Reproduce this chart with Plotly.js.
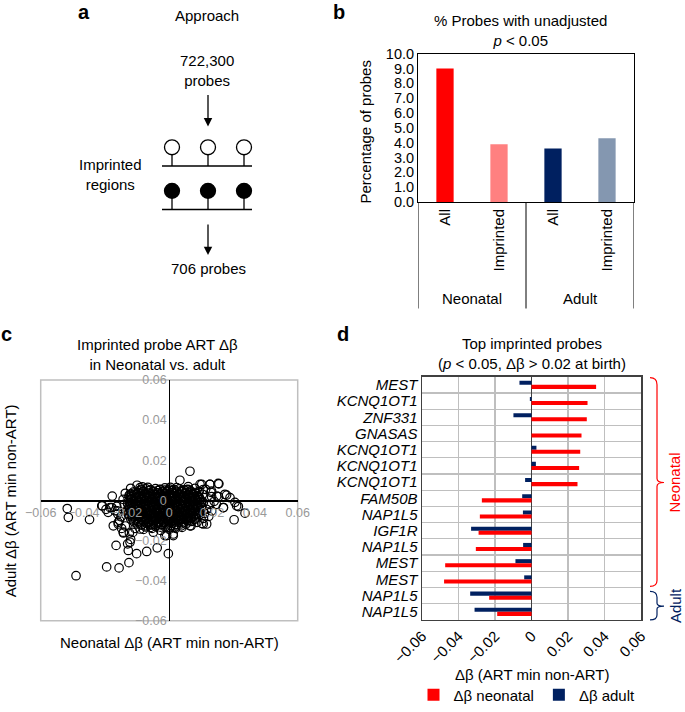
<!DOCTYPE html>
<html><head><meta charset="utf-8">
<script src="https://cdn.plot.ly/plotly-3.0.1.min.js"></script>
<style>html,body{margin:0;padding:0;background:#fff}#chart{width:685px;height:712px}</style>
</head><body><div id="chart"></div>
<script>
// ---------- Panel b data ----------
const bCategories = ['All', 'Imprinted', 'All', 'Imprinted'];
const bGroups = ['Neonatal', 'Adult'];
const bValues = [9.0, 3.9, 3.6, 4.3];
const bColors = ['#ff0000', '#ff8080', '#002060', '#8497b0'];
const bTicks = [0, 1, 2, 3, 4, 5, 6, 7, 8, 9, 10];

// ---------- Panel d data ----------
const dGenes = ['MEST', 'KCNQ1OT1', 'ZNF331', 'GNASAS', 'KCNQ1OT1', 'KCNQ1OT1', 'KCNQ1OT1',
  'FAM50B', 'NAP1L5', 'IGF1R', 'NAP1L5', 'MEST', 'MEST', 'NAP1L5', 'NAP1L5'];
const dNeonatal = [0.0354, 0.0307, 0.0303, 0.0274, 0.0267, 0.0261, 0.0252,
  -0.0272, -0.0283, -0.0290, -0.0305, -0.0473, -0.0479, -0.0232, -0.0188];
const dAdult = [-0.0066, -0.0009, -0.0099, 0.0000, 0.0027, 0.0024, -0.0035,
  -0.0051, -0.0047, -0.0331, -0.0046, -0.0088, -0.0040, -0.0336, -0.0312];
const dTicks = [-0.06, -0.04, -0.02, 0, 0.02, 0.04, 0.06];

// ---------- Panel c data (imprinted probes: neonatal vs adult delta beta) ----------
const cNeonatal = [
 -0.0131,-0.0108,-0.0087,-0.0064,-0.0043,-0.0021,0.0002,0.0024,0.0047,0.0069,0.0088,
 -0.0168,-0.0146,-0.0123,-0.0099,-0.0076,-0.0054,-0.0031,-0.0009,0.0013,0.0036,0.0058,0.0079,0.0101,0.0122,
 -0.0187,-0.0163,-0.0141,-0.0117,-0.0094,-0.0072,-0.0049,-0.0026,-0.0004,0.0019,0.0042,0.0064,0.0087,0.0109,0.0131,
 -0.0192,-0.0176,-0.0153,-0.0129,-0.0107,-0.0083,-0.0061,-0.0038,-0.0015,0.0008,0.0031,0.0053,0.0076,0.0098,0.0121,0.0142,
 -0.0188,-0.0165,-0.0141,-0.0118,-0.0096,-0.0072,-0.0049,-0.0027,-0.0003,0.0019,0.0042,0.0066,0.0088,0.0111,0.0133,0.0151,
 -0.0194,-0.0177,-0.0154,-0.0131,-0.0108,-0.0085,-0.0062,-0.0039,-0.0016,0.0007,0.0029,0.0053,0.0076,0.0099,0.0121,0.0144,
 -0.0189,-0.0166,-0.0143,-0.0119,-0.0097,-0.0073,-0.0051,-0.0028,-0.0004,0.0018,0.0041,0.0064,0.0087,0.0111,0.0134,0.0152,
 -0.0196,-0.0178,-0.0155,-0.0132,-0.0109,-0.0086,-0.0063,-0.0040,-0.0017,0.0006,0.0029,0.0052,0.0075,0.0098,0.0122,0.0143,
 -0.0191,-0.0167,-0.0144,-0.0121,-0.0098,-0.0074,-0.0052,-0.0029,-0.0005,0.0017,0.0040,0.0063,0.0086,0.0109,0.0132,
 -0.0186,-0.0163,-0.0139,-0.0116,-0.0093,-0.0070,-0.0047,-0.0024,-0.0001,0.0022,0.0045,0.0068,0.0091,0.0114,0.0136,
 -0.0179,-0.0156,-0.0133,-0.0110,-0.0087,-0.0064,-0.0041,-0.0018,0.0005,0.0028,0.0051,0.0074,0.0097,0.0119,
 -0.0164,-0.0141,-0.0118,-0.0095,-0.0072,-0.0049,-0.0026,-0.0003,0.0021,0.0044,0.0067,0.0091,
 -0.0131,-0.0108,-0.0084,-0.0061,-0.0038,-0.0014,0.0009,0.0033,0.0057,
 -0.0142,-0.0119,-0.0097,-0.0075,-0.0053,-0.0032,-0.0010,0.0013,0.0035,0.0058,0.0080,0.0100,
 -0.0176,-0.0154,-0.0131,-0.0108,-0.0086,-0.0064,-0.0041,-0.0019,0.0003,0.0025,0.0047,0.0070,0.0092,0.0113,0.0128,
 -0.0181,-0.0158,-0.0135,-0.0112,-0.0089,-0.0066,-0.0044,-0.0021,0.0002,0.0025,0.0048,0.0071,0.0094,0.0116,0.0137,
 -0.0178,-0.0153,-0.0130,-0.0107,-0.0084,-0.0061,-0.0038,-0.0015,0.0008,0.0031,0.0054,0.0077,0.0100,0.0122,0.0145,
 -0.0183,-0.0160,-0.0136,-0.0113,-0.0090,-0.0067,-0.0044,-0.0021,0.0002,0.0025,0.0048,0.0071,0.0094,0.0117,0.0139,
 -0.0186,-0.0164,-0.0141,-0.0118,-0.0095,-0.0073,-0.0050,-0.0027,-0.0004,0.0018,0.0041,0.0064,0.0088,0.0110,0.0132,0.0150,
 -0.0184,-0.0161,-0.0138,-0.0115,-0.0092,-0.0069,-0.0046,-0.0023,0.0000,0.0023,0.0046,0.0069,0.0092,0.0115,0.0137,
 -0.0182,-0.0159,-0.0136,-0.0113,-0.0090,-0.0067,-0.0044,-0.0021,0.0002,0.0025,0.0048,0.0071,0.0094,0.0117,0.0139,
 -0.0178,-0.0155,-0.0132,-0.0109,-0.0086,-0.0063,-0.0040,-0.0017,0.0006,0.0029,0.0052,0.0075,0.0098,0.0121,0.0140,
 -0.0172,-0.0149,-0.0126,-0.0103,-0.0080,-0.0057,-0.0034,-0.0011,0.0012,0.0035,0.0058,0.0081,0.0104,0.0126,
 -0.0168,-0.0145,-0.0122,-0.0099,-0.0076,-0.0053,-0.0030,-0.0007,0.0016,0.0039,0.0062,0.0085,0.0106,
 -0.0150,-0.0127,-0.0104,-0.0081,-0.0058,-0.0035,-0.0012,0.0011,0.0034,0.0057,0.0078,
 -0.0110,-0.0087,-0.0064,-0.0041,-0.0018,0.0005,0.0028,
 -0.0435,-0.0476,-0.0471,-0.0372,-0.0312,-0.0266,-0.0292,-0.0234,-0.0188,-0.0248,
 -0.0194,-0.0191,-0.0152,-0.0105,-0.0056,-0.0004,0.0019,-0.0020,-0.0214,-0.0186,
 -0.0276,-0.0253,-0.0245,-0.0238,-0.0232,-0.0295,-0.0222,-0.0205,-0.0210,-0.0215,
 -0.0205,-0.0180,-0.0150,-0.0125,-0.0100,-0.0020,0.0005,-0.0160,-0.0120,-0.0080,
 -0.0040,0.0000,0.0030,0.0060,0.0097,0.0050,0.0089,0.0152,0.0190,0.0232,
 0.0268,0.0230,0.0307,0.0323,0.0354,0.0303,0.0253,0.0175,0.0152,0.0102,
 0.0156,0.0198,0.0170,0.0120,0.0160,0.0175,0.0210,0.0185,0.0160,0.0140,
 0.0195,0.0165,0.0220,0.0130,-0.0285,-0.0240,-0.0225,-0.0180,-0.0170,
 0.0144,0.0190,0.0229,0.0159,0.0198,0.0260,0.0284,0.0222,0.0315,0.0253,0.0190,0.0198,
 -0.0315,-0.0268,-0.0242,-0.0261,-0.0238,-0.0214,-0.0183,-0.0191,-0.0183,-0.0136,-0.0043,0.0035,0.0082,
 -0.0136,-0.0074,-0.0012,0.0019,0.0097,0.0159
];
const cAdult = [
 0.0054,0.0057,0.0052,0.0058,0.0055,0.0051,0.0056,0.0053,0.0057,0.0052,0.0055,
 0.0041,0.0038,0.0043,0.0039,0.0042,0.0037,0.0041,0.0044,0.0038,0.0040,0.0043,0.0037,0.0041,0.0039,
 0.0024,0.0027,0.0022,0.0026,0.0023,0.0028,0.0024,0.0021,0.0026,0.0023,0.0027,0.0022,0.0025,0.0028,0.0023,
 0.0011,0.0008,0.0012,0.0009,0.0013,0.0007,0.0011,0.0008,0.0012,0.0010,0.0007,0.0013,0.0009,0.0011,0.0008,0.0012,
 -0.0004,-0.0007,-0.0003,-0.0006,-0.0002,-0.0008,-0.0005,-0.0003,-0.0007,-0.0004,-0.0006,-0.0002,-0.0008,-0.0005,-0.0003,-0.0006,
 -0.0019,-0.0022,-0.0018,-0.0021,-0.0017,-0.0023,-0.0020,-0.0018,-0.0022,-0.0019,-0.0021,-0.0017,-0.0023,-0.0020,-0.0018,-0.0022,
 -0.0034,-0.0037,-0.0033,-0.0036,-0.0032,-0.0038,-0.0035,-0.0033,-0.0037,-0.0034,-0.0036,-0.0032,-0.0038,-0.0035,-0.0033,-0.0037,
 -0.0049,-0.0052,-0.0048,-0.0051,-0.0047,-0.0053,-0.0050,-0.0048,-0.0052,-0.0049,-0.0051,-0.0047,-0.0053,-0.0050,-0.0048,-0.0052,
 -0.0064,-0.0067,-0.0063,-0.0066,-0.0062,-0.0068,-0.0065,-0.0063,-0.0067,-0.0064,-0.0066,-0.0062,-0.0068,-0.0065,-0.0063,
 -0.0079,-0.0082,-0.0078,-0.0081,-0.0077,-0.0083,-0.0080,-0.0078,-0.0082,-0.0079,-0.0081,-0.0077,-0.0083,-0.0080,-0.0078,
 -0.0094,-0.0097,-0.0093,-0.0096,-0.0092,-0.0098,-0.0095,-0.0093,-0.0097,-0.0094,-0.0096,-0.0092,-0.0098,-0.0095,
 -0.0109,-0.0112,-0.0108,-0.0111,-0.0107,-0.0113,-0.0110,-0.0108,-0.0112,-0.0109,-0.0111,-0.0107,
 -0.0124,-0.0127,-0.0123,-0.0126,-0.0122,-0.0128,-0.0125,-0.0123,-0.0127,
 0.0047,0.0045,0.0049,0.0046,0.0048,0.0044,0.0047,0.0049,0.0045,0.0048,0.0046,0.0047,
 0.0032,0.0030,0.0034,0.0031,0.0033,0.0029,0.0032,0.0035,0.0030,0.0033,0.0031,0.0034,0.0030,0.0032,0.0033,
 0.0017,0.0015,0.0019,0.0016,0.0018,0.0014,0.0017,0.0020,0.0015,0.0018,0.0016,0.0019,0.0015,0.0017,0.0018,
 0.0002,0.0000,0.0004,0.0001,0.0003,-0.0001,0.0002,0.0005,0.0000,0.0003,0.0001,0.0004,0.0000,0.0002,0.0003,
 -0.0013,-0.0015,-0.0011,-0.0014,-0.0012,-0.0016,-0.0013,-0.0010,-0.0015,-0.0012,-0.0014,-0.0011,-0.0015,-0.0013,-0.0012,
 -0.0028,-0.0030,-0.0026,-0.0029,-0.0027,-0.0031,-0.0028,-0.0025,-0.0030,-0.0027,-0.0029,-0.0026,-0.0030,-0.0028,-0.0027,-0.0029,
 -0.0043,-0.0045,-0.0041,-0.0044,-0.0042,-0.0046,-0.0043,-0.0040,-0.0045,-0.0042,-0.0044,-0.0041,-0.0045,-0.0043,-0.0042,
 -0.0058,-0.0060,-0.0056,-0.0059,-0.0057,-0.0061,-0.0058,-0.0055,-0.0060,-0.0057,-0.0059,-0.0056,-0.0060,-0.0058,-0.0057,
 -0.0073,-0.0075,-0.0071,-0.0074,-0.0072,-0.0076,-0.0073,-0.0070,-0.0075,-0.0072,-0.0074,-0.0071,-0.0075,-0.0073,-0.0072,
 -0.0088,-0.0090,-0.0086,-0.0089,-0.0087,-0.0091,-0.0088,-0.0085,-0.0090,-0.0087,-0.0089,-0.0086,-0.0090,-0.0088,
 -0.0103,-0.0105,-0.0101,-0.0104,-0.0102,-0.0106,-0.0103,-0.0100,-0.0105,-0.0102,-0.0104,-0.0101,-0.0105,
 -0.0118,-0.0120,-0.0116,-0.0119,-0.0117,-0.0121,-0.0118,-0.0115,-0.0120,-0.0117,-0.0119,
 -0.0133,-0.0135,-0.0131,-0.0134,-0.0132,-0.0136,-0.0133,
 -0.0376,-0.0041,-0.0085,-0.0096,-0.0027,0.0021,-0.0332,-0.0337,-0.0311,-0.0225,
 -0.0217,-0.0250,-0.0266,-0.0255,-0.0237,-0.0266,-0.0176,-0.0176,-0.0163,-0.0163,
 -0.0036,-0.0052,-0.0030,-0.0118,-0.0100,-0.0045,-0.0140,-0.0128,-0.0020,0.0005,
 0.0035,0.0060,0.0075,0.0067,0.0065,0.0062,0.0065,-0.0140,-0.0145,-0.0140,
 -0.0150,-0.0145,-0.0140,-0.0135,0.0145,0.0100,0.0068,0.0079,0.0079,0.0082,
 0.0026,0.0018,-0.0010,-0.0031,-0.0064,-0.0097,-0.0036,-0.0118,-0.0115,-0.0127,
 0.0030,0.0018,0.0055,0.0060,-0.0010,-0.0045,-0.0005,-0.0080,-0.0090,0.0045,
 0.0040,-0.0065,-0.0020,-0.0110,-0.0060,-0.0068,-0.0082,-0.0195,-0.0160,
 0.0079,0.0079,0.0084,0.0054,0.0046,0.0030,0.0013,0.0021,-0.0028,-0.0036,-0.0020,-0.0053,
 -0.0028,-0.0036,-0.0053,-0.0127,-0.0110,-0.0159,-0.0209,-0.0069,0.0030,0.0063,0.0054,0.0063,0.0054,
 -0.0143,-0.0159,-0.0176,-0.0168,-0.0127,-0.0118
];
const cTicks = [-0.06, -0.04, -0.02, 0, 0.02, 0.04, 0.06];

// ---------- helpers: pixel -> paper ----------
const W = 685, H = 712;
const px = x => x / W;
const py = y => 1 - y / H;
const FONT = 'Liberation Sans, Arial, Helvetica, sans-serif';
const RED = '#ff0000', NAVY = '#002060';

const traces = [
  { type: 'bar', x: bCategories.map((_, i) => i), y: bValues, width: 0.32,
    marker: { color: bColors, line: { width: 0 } }, xaxis: 'x', yaxis: 'y', showlegend: false, hoverinfo: 'y' },
  { type: 'scatter', mode: 'markers', x: cNeonatal, y: cAdult, xaxis: 'x2', yaxis: 'y2', showlegend: false,
    marker: { symbol: 'circle-open', size: 8.5, color: '#000', line: { width: 1.2 } } },
  { type: 'bar', orientation: 'h', name: 'Δβ adult', x: dAdult, y: dGenes.map((_, i) => i),
    marker: { color: NAVY }, xaxis: 'x3', yaxis: 'y3', legendrank: 2 },
  { type: 'bar', orientation: 'h', name: 'Δβ neonatal', x: dNeonatal, y: dGenes.map((_, i) => i),
    marker: { color: RED }, xaxis: 'x3', yaxis: 'y3', legendrank: 1 }
];

const ann = (x, y, text, opts) => Object.assign({ xref: 'paper', yref: 'paper', x: px(x), y: py(y), text,
  showarrow: false, xanchor: 'center', yanchor: 'middle', font: { family: FONT, size: 15, color: '#000' } }, opts || {});

const annotations = [
  // panel labels
  ann(84, 12, '<b>a</b>', { font: { family: FONT, size: 20, color: '#000' } }),
  ann(339, 12, '<b>b</b>', { font: { family: FONT, size: 20, color: '#000' } }),
  ann(6, 338, '<b>c</b>', { font: { family: FONT, size: 20, color: '#000' } }),
  ann(343, 338, '<b>d</b>', { font: { family: FONT, size: 20, color: '#000' } }),
  // panel a
  ann(207, 16, 'Approach'),
  ann(207, 71, '722,300<br>probes'),
  ann(110, 176, 'Imprinted<br>regions'),
  ann(208, 272, '706 probes'),
  { xref: 'paper', yref: 'paper', x: px(208), y: py(128), ax: 0, ay: -33, text: '', showarrow: true,
    arrowhead: 2, arrowsize: 1.3, arrowwidth: 1.3, arrowcolor: '#000' },
  { xref: 'paper', yref: 'paper', x: px(208), y: py(258), ax: 0, ay: -32, text: '', showarrow: true,
    arrowhead: 2, arrowsize: 1.3, arrowwidth: 1.3, arrowcolor: '#000' },
  // panel b
  ann(520, 31, '% Probes with unadjusted<br><i>p</i> &lt; 0.05'),
  ann(366, 133, 'Percentage of probes', { textangle: -90 }),
  { xref: 'x', yref: 'paper', x: 0.5, y: py(302), text: bGroups[0], showarrow: false, xanchor: 'center', yanchor: 'middle', font: { family: FONT, size: 15, color: '#000' } },
  { xref: 'x', yref: 'paper', x: 2.5, y: py(302), text: bGroups[1], showarrow: false, xanchor: 'center', yanchor: 'middle', font: { family: FONT, size: 15, color: '#000' } },
  // panel c
  ann(157, 359, 'Imprinted probe ART Δβ<br>in Neonatal vs. adult'),
  ann(169, 650, 'Neonatal Δβ (ART min non-ART)'),
  ann(10, 507, 'Adult Δβ (ART min non-ART)', { textangle: -90 }),
  // panel d
  ann(532, 358, 'Top imprinted probes<br>(<i>p</i> &lt; 0.05, Δβ &gt; 0.02 at birth)'),
  ann(532, 682, 'Δβ (ART min non-ART)'),
  ann(675, 488, 'Neonatal', { textangle: -90, font: { family: FONT, size: 15, color: RED } }),
  ann(675, 613, 'Adult', { textangle: -90, font: { family: FONT, size: 15, color: NAVY } })
];

const shapes = [];
// panel a diagram
[172, 208, 244].forEach(cx => {
  shapes.push({ type: 'circle', xref: 'paper', yref: 'paper', x0: px(cx - 7.5), x1: px(cx + 7.5), y0: py(141.5), y1: py(156.5), line: { color: '#000', width: 1.3 }, fillcolor: '#fff' });
  shapes.push({ type: 'line', xref: 'paper', yref: 'paper', x0: px(cx), x1: px(cx), y0: py(156.5), y1: py(168), line: { color: '#000', width: 1.3 } });
  shapes.push({ type: 'circle', xref: 'paper', yref: 'paper', x0: px(cx - 7.5), x1: px(cx + 7.5), y0: py(185.5), y1: py(200.5), line: { color: '#000', width: 1.3 }, fillcolor: '#000' });
  shapes.push({ type: 'line', xref: 'paper', yref: 'paper', x0: px(cx), x1: px(cx), y0: py(200.5), y1: py(212), line: { color: '#000', width: 1.3 } });
});
shapes.push({ type: 'line', xref: 'paper', yref: 'paper', x0: px(162), x1: px(252), y0: py(168), y1: py(168), line: { color: '#000', width: 1.5 } });
shapes.push({ type: 'line', xref: 'paper', yref: 'paper', x0: px(162), x1: px(252), y0: py(212), y1: py(212), line: { color: '#000', width: 1.5 } });
// panel b group dividers
[-0.5, 1.5, 3.5].forEach(xv => {
  shapes.push({ type: 'line', xref: 'x', yref: 'paper', x0: xv, x1: xv, y0: py(204.3), y1: py(312), line: { color: '#000', width: 1 } });
});
// panel c grey frame
shapes.push({ type: 'rect', xref: 'x2 domain', yref: 'y2 domain', x0: 0, x1: 1, y0: 0, y1: 1, line: { color: '#bfbfbf', width: 1.5 }, layer: 'below' });
// panel d braces
const P = (x, y) => px(x) + ',' + py(y);
shapes.push({ type: 'path', xref: 'paper', yref: 'paper', line: { color: RED, width: 1.2 },
  path: `M${P(650, 382)} Q${P(657, 382)} ${P(657, 389)} L${P(657, 484)} Q${P(657, 488)} ${P(664, 488)} Q${P(657, 488)} ${P(657, 492)} L${P(657, 587)} Q${P(657, 593)} ${P(650, 593)}` });
shapes.push({ type: 'path', xref: 'paper', yref: 'paper', line: { color: NAVY, width: 1.2 },
  path: `M${P(650, 598)} Q${P(657, 598)} ${P(657, 604)} L${P(657, 610)} Q${P(657, 613)} ${P(664, 613)} Q${P(657, 613)} ${P(657, 616)} L${P(657, 622)} Q${P(657, 627)} ${P(650, 627)}` });

const tickFont = s => ({ family: FONT, size: s, color: '#000' });
const cDomX = [px(40.7), px(297.7)], cDomY = [py(627.7), py(384.3)];

const layout = {
  width: W, height: H, margin: { l: 0, r: 0, t: 0, b: 0 },
  paper_bgcolor: '#fff', plot_bgcolor: 'rgba(0,0,0,0)',
  font: { family: FONT, size: 15, color: '#000' },
  bargap: 0.5, bargroupgap: 0, barmode: 'group',
  showlegend: true,
  legend: { orientation: 'h', x: px(527), xanchor: 'center', y: py(703), yanchor: 'middle',
    font: { family: FONT, size: 15, color: '#000' }, bgcolor: 'rgba(0,0,0,0)', itemclick: false },
  // panel b
  xaxis: { domain: [px(418), px(634)], anchor: 'y', range: [-0.5, 3.5], tickvals: [0, 1, 2, 3], ticktext: bCategories,
    tickangle: -90, showline: true, mirror: true, linecolor: '#000', linewidth: 1, ticks: '', showgrid: false, zeroline: false,
    tickfont: tickFont(15), fixedrange: true },
  yaxis: { domain: [py(204.3), py(54.3)], anchor: 'x', range: [0, 10], tickvals: bTicks, tickformat: '.1f',
    showline: true, mirror: true, linecolor: '#000', linewidth: 1, ticks: '', showgrid: false, zeroline: false,
    tickfont: tickFont(14.5), fixedrange: true },
  // panel c
  xaxis2: { domain: cDomX, anchor: 'free', position: (cDomY[0] + cDomY[1]) / 2, range: [-0.06, 0.06],
    tickvals: cTicks, showline: true, linecolor: '#000', linewidth: 1.2, ticks: '', showgrid: false, zeroline: false,
    tickfont: { family: FONT, size: 12.5, color: '#999' }, fixedrange: true },
  yaxis2: { domain: cDomY, anchor: 'free', position: (cDomX[0] + cDomX[1]) / 2, range: [-0.06, 0.06],
    tickvals: cTicks, showline: true, linecolor: '#000', linewidth: 1.2, ticks: '', showgrid: false, zeroline: false,
    tickfont: { family: FONT, size: 12.5, color: '#999' }, fixedrange: true },
  // panel d
  xaxis3: { domain: [px(422), px(641)], anchor: 'y3', range: [-0.06, 0.06], tickvals: dTicks, tickangle: -45,
    showgrid: true, gridcolor: '#bfbfbf', gridwidth: 1.2, zeroline: true, zerolinecolor: '#404040', zerolinewidth: 1.5,
    showline: true, mirror: true, linecolor: '#404040', linewidth: 1.5, ticks: '', tickfont: tickFont(15), fixedrange: true },
  yaxis3: { domain: [py(627), py(381)], anchor: 'x3', range: [dGenes.length - 0.5, -0.5],
    tickvals: dGenes.map((_, i) => i), ticktext: dGenes.map(g => '<i>' + g + '</i>'),
    showgrid: false, zeroline: false, showline: true, mirror: true, linecolor: '#404040', linewidth: 1.5, ticks: '',
    minor: { tickmode: 'array', tickvals: dGenes.slice(1).map((_, i) => i + 0.5), showgrid: true, gridcolor: '#bfbfbf', gridwidth: 1.2, ticks: '' },
    tickfont: tickFont(15), fixedrange: true },
  annotations, shapes
};

Plotly.newPlot('chart', traces, layout, { displayModeBar: false, staticPlot: true });
</script>
</body></html>
